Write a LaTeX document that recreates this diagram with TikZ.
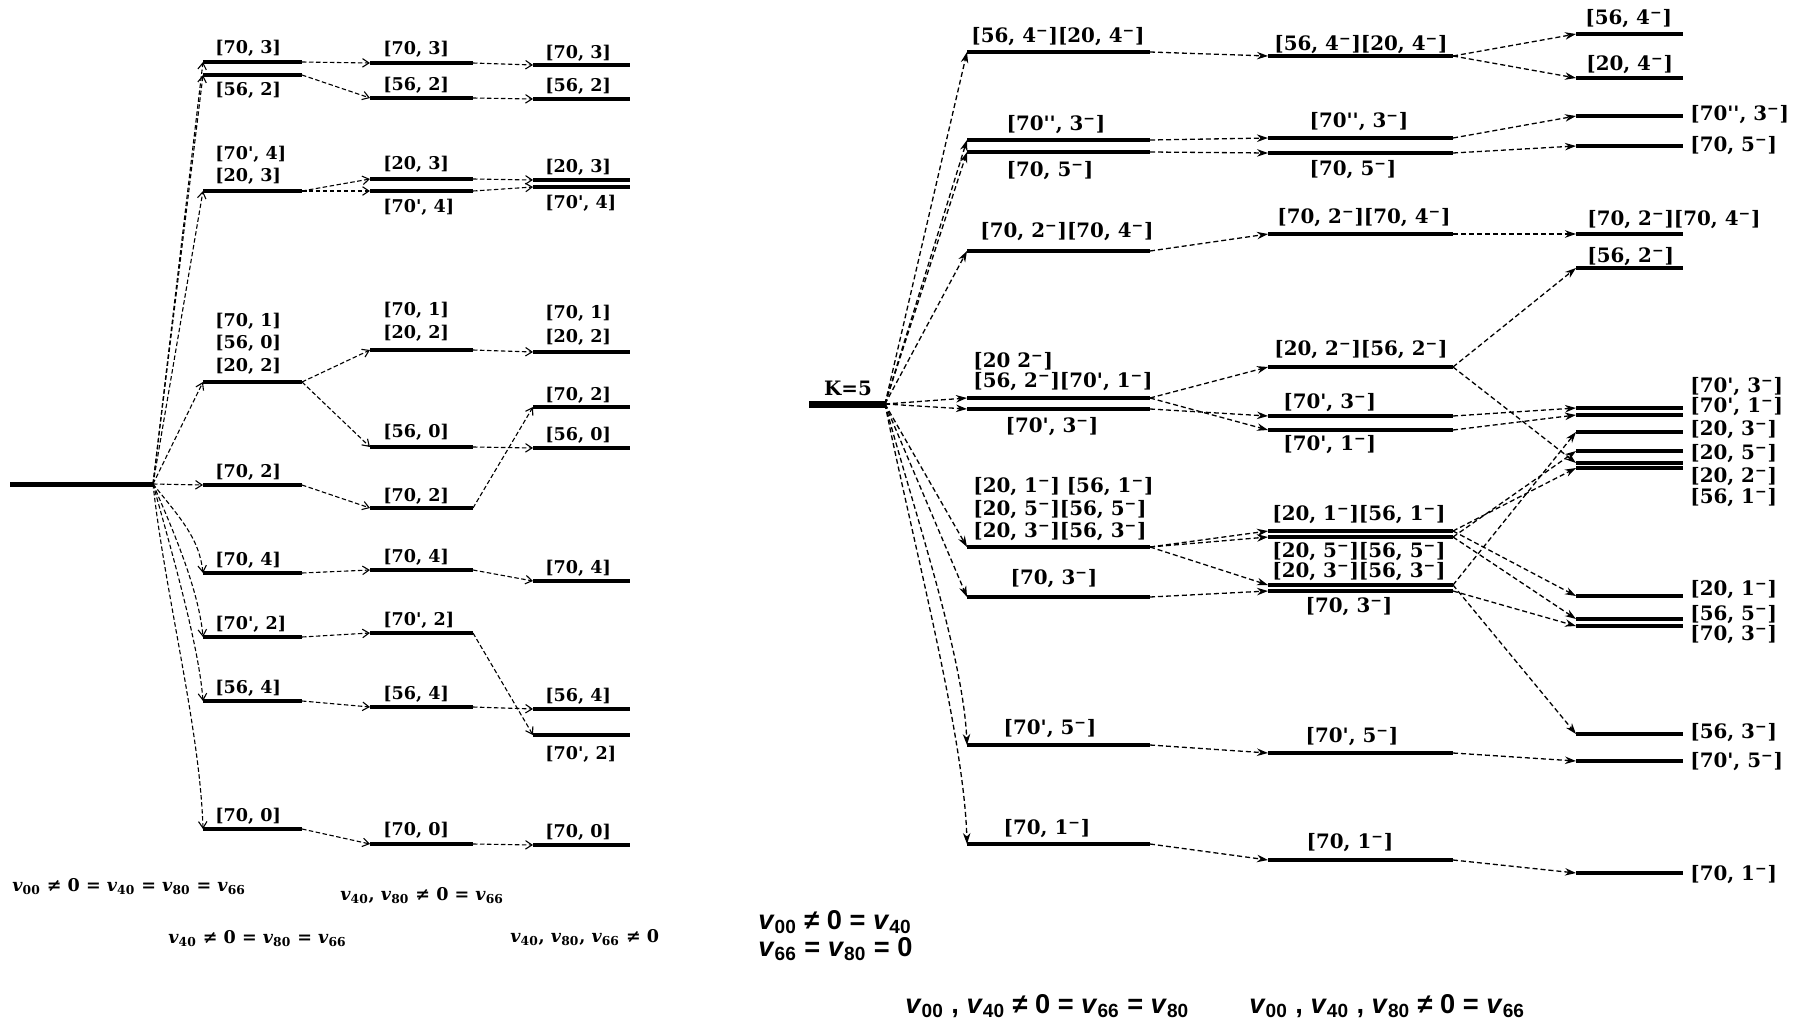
\documentclass[tikz,border=0pt]{standalone}
\usepackage{fontspec}
\setmainfont{DejaVu Serif}
\newfontfamily\eqsans{Liberation Sans}
\usetikzlibrary{arrows.meta}
% superscript minus, straight prime, potential symbol
\newcommand\mn{\textsuperscript{−}}
\newcommand\pr{\textquotesingle}
\newcommand\vv[1]{\textit{v}\textsubscript{#1}}
% energy level: named end points (#2-l), (#2-r) and the bar between them
\newcommand\lvl[5][]{%
  \coordinate (#2-l) at (#3,#5);
  \coordinate (#2-r) at (#4,#5);
  \draw[#1] (#2-l) -- (#2-r);}
\begin{document}
\begin{tikzpicture}[x=0.02cm,y=-0.02cm,
  gnd/.style={line width=0.1cm},
  kl/.style={line width=0.14cm},
  lv/.style={line width=0.08cm},
  lvd/.style={line width=0.065cm},
  lbl/.style={inner sep=0pt,font=\bfseries\fontsize{10}{12}\selectfont},
  rlbl/.style={inner sep=0pt,font=\bfseries\fontsize{11.3}{13}\selectfont},
  eqL/.style={inner sep=0pt,anchor=west,font=\bfseries\fontsize{10}{12}\selectfont},
  eqR/.style={inner sep=0pt,anchor=west,font=\eqsans\bfseries\fontsize{15.5}{18}\selectfont},
  arL/.style={dash pattern=on 0.09cm off 0.05cm,line width=0.022cm,
    -{Straight Barb[length=0.13cm,width=0.17cm]}},
  arR/.style={dash pattern=on 0.1cm off 0.06cm,line width=0.026cm,
    -{Stealth[length=0.22cm,width=0.15cm]}},
]
\path[use as bounding box] (0,0) rectangle (1800,1021);

% ================= left scheme =================
\lvl[gnd]{G}{10}{153}{484}
% first splitting
\lvl[lv]{A1}{203}{302}{62}
\lvl[lv]{A2}{203}{302}{75}
\lvl[lv]{A3}{203}{302}{191}
\lvl[lv]{A4}{203}{302}{382}
\lvl[lv]{A5}{203}{302}{485}
\lvl[lv]{A6}{203}{302}{573}
\lvl[lv]{A7}{203}{302}{637}
\lvl[lv]{A8}{203}{302}{701}
\lvl[lv]{A9}{203}{302}{829}
% second splitting
\lvl[lv]{B1}{370}{473}{63}
\lvl[lv]{B2}{370}{473}{98}
\lvl[lv]{B3}{370}{473}{179}
\lvl[lv]{B4}{370}{473}{191}
\lvl[lv]{B5}{370}{473}{350}
\lvl[lv]{B6}{370}{473}{447}
\lvl[lv]{B7}{370}{473}{508}
\lvl[lv]{B8}{370}{473}{570}
\lvl[lv]{B9}{370}{473}{633}
\lvl[lv]{B10}{370}{473}{707}
\lvl[lv]{B11}{370}{473}{844}
% third splitting
\lvl[lv]{C1}{533}{630}{65}
\lvl[lv]{C2}{533}{630}{99}
\lvl[lv]{C3}{533}{630}{180}
\lvl[lv]{C4}{533}{630}{187}
\lvl[lv]{C5}{533}{630}{352}
\lvl[lv]{C6}{533}{630}{407}
\lvl[lv]{C7}{533}{630}{448}
\lvl[lv]{C8}{533}{630}{581}
\lvl[lv]{C9}{533}{630}{709}
\lvl[lv]{C10}{533}{630}{735}
\lvl[lv]{C11}{533}{630}{845}

% labels, first column
\node[lbl,anchor=west] (tA1) at (215,48) {[70, 3]};
\node[lbl,anchor=west] (tA2) at (215,90) {[56, 2]};
\node[lbl,anchor=west] (tA3a) at (215,154) {[70\pr, 4]};
\node[lbl,anchor=west] (tA3b) at (215,176) {[20, 3]};
\node[lbl,anchor=west] (tA4a) at (215,321) {[70, 1]};
\node[lbl,anchor=west] (tA4b) at (215,343) {[56, 0]};
\node[lbl,anchor=west] (tA4c) at (215,366) {[20, 2]};
\node[lbl,anchor=west] (tA5) at (215,472) {[70, 2]};
\node[lbl,anchor=west] (tA6) at (215,560) {[70, 4]};
\node[lbl,anchor=west] (tA7) at (215,624) {[70\pr, 2]};
\node[lbl,anchor=west] (tA8) at (215,688) {[56, 4]};
\node[lbl,anchor=west] (tA9) at (215,816) {[70, 0]};
% labels, second column
\node[lbl,anchor=west] (tB1) at (383,49) {[70, 3]};
\node[lbl,anchor=west] (tB2) at (383,85) {[56, 2]};
\node[lbl,anchor=west] (tB3) at (383,164) {[20, 3]};
\node[lbl,anchor=west] (tB4) at (383,207) {[70\pr, 4]};
\node[lbl,anchor=west] (tB5a) at (383,310) {[70, 1]};
\node[lbl,anchor=west] (tB5b) at (383,333) {[20, 2]};
\node[lbl,anchor=west] (tB6) at (383,432) {[56, 0]};
\node[lbl,anchor=west] (tB7) at (383,496) {[70, 2]};
\node[lbl,anchor=west] (tB8) at (383,557) {[70, 4]};
\node[lbl,anchor=west] (tB9) at (383,620) {[70\pr, 2]};
\node[lbl,anchor=west] (tB10) at (383,694) {[56, 4]};
\node[lbl,anchor=west] (tB11) at (383,830) {[70, 0]};
% labels, third column
\node[lbl,anchor=west] (tC1) at (545,53) {[70, 3]};
\node[lbl,anchor=west] (tC2) at (545,86) {[56, 2]};
\node[lbl,anchor=west] (tC3) at (545,167) {[20, 3]};
\node[lbl,anchor=west] (tC4) at (545,203) {[70\pr, 4]};
\node[lbl,anchor=west] (tC5a) at (545,313) {[70, 1]};
\node[lbl,anchor=west] (tC5b) at (545,337) {[20, 2]};
\node[lbl,anchor=west] (tC6) at (545,395) {[70, 2]};
\node[lbl,anchor=west] (tC7) at (545,435) {[56, 0]};
\node[lbl,anchor=west] (tC8) at (545,568) {[70, 4]};
\node[lbl,anchor=west] (tC9) at (545,696) {[56, 4]};
\node[lbl,anchor=west] (tC10) at (545,754) {[70\pr, 2]};
\node[lbl,anchor=west] (tC11) at (545,832) {[70, 0]};

% transitions
\foreach \t in {A1,A2,A3,A4,A5}
  \draw[arL] (G-r) -- (\t-l);
\draw[arL] (G-r) .. controls +(28,35) and +(-4,-35) .. (A6-l);
\draw[arL] (G-r) .. controls +(22,50) and +(-4,-45) .. (A7-l);
\draw[arL] (G-r) .. controls +(18,65) and +(-4,-55) .. (A8-l);
\draw[arL] (G-r) .. controls +(12,110) and +(-3,-100) .. (A9-l);
\draw[arL] (A1-r) -- (B1-l);
\draw[arL] (A2-r) -- (B2-l);
\draw[arL] (A3-r) -- (B3-l);
\draw[arL] (A3-r) -- (B4-l);
\draw[arL] (A4-r) -- (B5-l);
\draw[arL] (A4-r) -- (B6-l);
\draw[arL] (A5-r) -- (B7-l);
\draw[arL] (A6-r) -- (B8-l);
\draw[arL] (A7-r) -- (B9-l);
\draw[arL] (A8-r) -- (B10-l);
\draw[arL] (A9-r) -- (B11-l);
\draw[arL] (B1-r) -- (C1-l);
\draw[arL] (B2-r) -- (C2-l);
\draw[arL] (B3-r) -- (C3-l);
\draw[arL] (B4-r) -- (C4-l);
\draw[arL] (B5-r) -- (C5-l);
\draw[arL] (B6-r) -- (C7-l);
\draw[arL] (B7-r) -- (C6-l);
\draw[arL] (B8-r) -- (C8-l);
\draw[arL] (B9-r) -- (C10-l);
\draw[arL] (B10-r) -- (C9-l);
\draw[arL] (B11-r) -- (C11-l);

% conditions
\node[eqL] (e1) at (12,887) {\vv{00} ≠ 0 = \vv{40} = \vv{80} = \vv{66}};
\node[eqL] (e2) at (168,939) {\vv{40} ≠ 0 = \vv{80} = \vv{66}};
\node[eqL] (e3) at (340,896) {\vv{40}, \vv{80} ≠ 0 = \vv{66}};
\node[eqL] (e4) at (510,938) {\vv{40}, \vv{80}, \vv{66} ≠ 0};

% ================= right scheme =================
\lvl[kl]{K}{809}{885}{404}
\node[rlbl] (tK) at (848,388) {K=5};
% first splitting
\lvl[lv]{R1}{967}{1150}{52}
\lvl[lv]{R2}{967}{1150}{140}
\lvl[lv]{R3}{967}{1150}{152}
\lvl[lv]{R4}{967}{1150}{251}
\lvl[lv]{R5}{967}{1150}{398}
\lvl[lv]{R6}{967}{1150}{409}
\lvl[lv]{R7}{967}{1150}{547}
\lvl[lv]{R8}{967}{1150}{597}
\lvl[lv]{R9}{967}{1150}{745}
\lvl[lv]{R10}{967}{1150}{844}
% second splitting
\lvl[lv]{Q1}{1268}{1453}{56}
\lvl[lv]{Q2}{1268}{1453}{138}
\lvl[lv]{Q3}{1268}{1453}{153}
\lvl[lv]{Q4}{1268}{1453}{234}
\lvl[lv]{Q5}{1268}{1453}{367}
\lvl[lv]{Q6}{1268}{1453}{416}
\lvl[lv]{Q7}{1268}{1453}{430}
\lvl[lvd]{Q8a}{1268}{1453}{531}
\lvl[lvd]{Q8b}{1268}{1453}{537}
\lvl[lvd]{Q9a}{1268}{1453}{585}
\lvl[lvd]{Q9b}{1268}{1453}{591}
\lvl[lv]{Q10}{1268}{1453}{753}
\lvl[lv]{Q11}{1268}{1453}{860}
% third splitting
\lvl[lv]{P1}{1576}{1683}{34}
\lvl[lv]{P2}{1576}{1683}{78}
\lvl[lv]{P3}{1576}{1683}{116}
\lvl[lv]{P4}{1576}{1683}{146}
\lvl[lv]{P5}{1576}{1683}{234}
\lvl[lv]{P6}{1576}{1683}{268}
\lvl[lvd]{P7}{1576}{1683}{408}
\lvl[lvd]{P8}{1576}{1683}{415}
\lvl[lv]{P9}{1576}{1683}{432}
\lvl[lv]{P10}{1576}{1683}{451}
\lvl[lvd]{P11}{1576}{1683}{463}
\lvl[lvd]{P12}{1576}{1683}{468}
\lvl[lv]{P13}{1576}{1683}{596}
\lvl[lvd]{P14}{1576}{1683}{619}
\lvl[lvd]{P15}{1576}{1683}{626}
\lvl[lv]{P16}{1576}{1683}{734}
\lvl[lv]{P17}{1576}{1683}{761}
\lvl[lv]{P18}{1576}{1683}{873}

% labels, first column
\node[rlbl] (tR1) at (1058,37) {[56, 4\mn][20, 4\mn]};
\node[rlbl] (tR2) at (1056,125) {[70\pr\pr, 3\mn]};
\node[rlbl] (tR3) at (1050,171) {[70, 5\mn]};
\node[rlbl] (tR4) at (1067,232) {[70, 2\mn][70, 4\mn]};
\node[rlbl,anchor=west] (tR5a) at (973,361) {[20 2\mn]};
\node[rlbl,anchor=west] (tR5b) at (973,382) {[56, 2\mn][70\pr, 1\mn]};
\node[rlbl] (tR6) at (1052,427) {[70\pr, 3\mn]};
\node[rlbl,anchor=west] (tR7a) at (973,487) {[20, 1\mn] [56, 1\mn]};
\node[rlbl,anchor=west] (tR7b) at (973,510) {[20, 5\mn][56, 5\mn]};
\node[rlbl,anchor=west] (tR7c) at (973,532) {[20, 3\mn][56, 3\mn]};
\node[rlbl] (tR8) at (1054,579) {[70, 3\mn]};
\node[rlbl] (tR9) at (1050,729) {[70\pr, 5\mn]};
\node[rlbl] (tR10) at (1047,829) {[70, 1\mn]};
% labels, second column
\node[rlbl,anchor=west] (tQ1) at (1274,45) {[56, 4\mn][20, 4\mn]};
\node[rlbl] (tQ2) at (1359,122) {[70\pr\pr, 3\mn]};
\node[rlbl] (tQ3) at (1353,170) {[70, 5\mn]};
\node[rlbl,anchor=west] (tQ4) at (1277,218) {[70, 2\mn][70, 4\mn]};
\node[rlbl,anchor=west] (tQ5) at (1274,350) {[20, 2\mn][56, 2\mn]};
\node[rlbl,anchor=west] (tQ6) at (1283,403) {[70\pr, 3\mn]};
\node[rlbl,anchor=west] (tQ7) at (1283,445) {[70\pr, 1\mn]};
\node[rlbl,anchor=west] (tQ8a) at (1272,515) {[20, 1\mn][56, 1\mn]};
\node[rlbl,anchor=west] (tQ8b) at (1272,552) {[20, 5\mn][56, 5\mn]};
\node[rlbl,anchor=west] (tQ9a) at (1272,572) {[20, 3\mn][56, 3\mn]};
\node[rlbl] (tQ9b) at (1349,607) {[70, 3\mn]};
\node[rlbl] (tQ10) at (1352,737) {[70\pr, 5\mn]};
\node[rlbl] (tQ11) at (1350,843) {[70, 1\mn]};
% labels, third column
\node[rlbl,anchor=west] (tP1) at (1585,19) {[56, 4\mn]};
\node[rlbl,anchor=west] (tP2) at (1586,65) {[20, 4\mn]};
\node[rlbl,anchor=west] (tP3) at (1690,115) {[70\pr\pr, 3\mn]};
\node[rlbl,anchor=west] (tP4) at (1690,146) {[70, 5\mn]};
\node[rlbl,anchor=west] (tP5) at (1587,220) {[70, 2\mn][70, 4\mn]};
\node[rlbl,anchor=west] (tP6) at (1587,257) {[56, 2\mn]};
\node[rlbl,anchor=west] (tP7) at (1690,387) {[70\pr, 3\mn]};
\node[rlbl,anchor=west] (tP8) at (1690,407) {[70\pr, 1\mn]};
\node[rlbl,anchor=west] (tP9) at (1690,430) {[20, 3\mn]};
\node[rlbl,anchor=west] (tP10) at (1690,454) {[20, 5\mn]};
\node[rlbl,anchor=west] (tP11) at (1690,477) {[20, 2\mn]};
\node[rlbl,anchor=west] (tP12) at (1690,498) {[56, 1\mn]};
\node[rlbl,anchor=west] (tP13) at (1690,590) {[20, 1\mn]};
\node[rlbl,anchor=west] (tP14) at (1690,615) {[56, 5\mn]};
\node[rlbl,anchor=west] (tP15) at (1690,635) {[70, 3\mn]};
\node[rlbl,anchor=west] (tP16) at (1690,733) {[56, 3\mn]};
\node[rlbl,anchor=west] (tP17) at (1690,762) {[70\pr, 5\mn]};
\node[rlbl,anchor=west] (tP18) at (1690,875) {[70, 1\mn]};

% transitions
\foreach \t in {R1,R2,R3,R4,R5,R6,R7,R8}
  \draw[arR] (K-r) -- (\t-l);
\draw[arR] (K-r) .. controls +(30,110) and +(-4,-90) .. (R9-l);
\draw[arR] (K-r) .. controls +(28,140) and +(-3,-110) .. (R10-l);
\draw[arR] (R1-r) -- (Q1-l);
\draw[arR] (R2-r) -- (Q2-l);
\draw[arR] (R3-r) -- (Q3-l);
\draw[arR] (R4-r) -- (Q4-l);
\draw[arR] (R5-r) -- (Q5-l);
\draw[arR] (R5-r) -- (Q7-l);
\draw[arR] (R6-r) -- (Q6-l);
\draw[arR] (R7-r) -- (Q8a-l);
\draw[arR] (R7-r) -- (Q8b-l);
\draw[arR] (R7-r) -- (Q9a-l);
\draw[arR] (R8-r) -- (Q9b-l);
\draw[arR] (R9-r) -- (Q10-l);
\draw[arR] (R10-r) -- (Q11-l);
\draw[arR] (Q1-r) -- (P1-l);
\draw[arR] (Q1-r) -- (P2-l);
\draw[arR] (Q2-r) -- (P3-l);
\draw[arR] (Q3-r) -- (P4-l);
\draw[arR] (Q4-r) -- (P5-l);
\draw[arR] (Q5-r) -- (P6-l);
\draw[arR] (Q5-r) -- (P11-l);
\draw[arR] (Q6-r) -- (P7-l);
\draw[arR] (Q7-r) -- (P8-l);
\draw[arR] (Q8a-r) -- (P12-l);
\draw[arR] (Q8a-r) -- (P13-l);
\draw[arR] (Q8b-r) -- (P10-l);
\draw[arR] (Q8b-r) -- (P14-l);
\draw[arR] (Q9a-r) -- (P9-l);
\draw[arR] (Q9a-r) -- (P16-l);
\draw[arR] (Q9b-r) -- (P15-l);
\draw[arR] (Q10-r) -- (P17-l);
\draw[arR] (Q11-r) -- (P18-l);

% conditions
\node[eqR] (f1) at (758,922) {\vv{00} ≠ 0 = \vv{40}};
\node[eqR] (f2) at (758,949) {\vv{66} = \vv{80} = 0};
\node[eqR] (f3) at (905,1006) {\vv{00} , \vv{40} ≠ 0 = \vv{66} = \vv{80}};
\node[eqR] (f4) at (1249,1006) {\vv{00} , \vv{40} , \vv{80} ≠ 0 = \vv{66}};
\end{tikzpicture}
\end{document}
